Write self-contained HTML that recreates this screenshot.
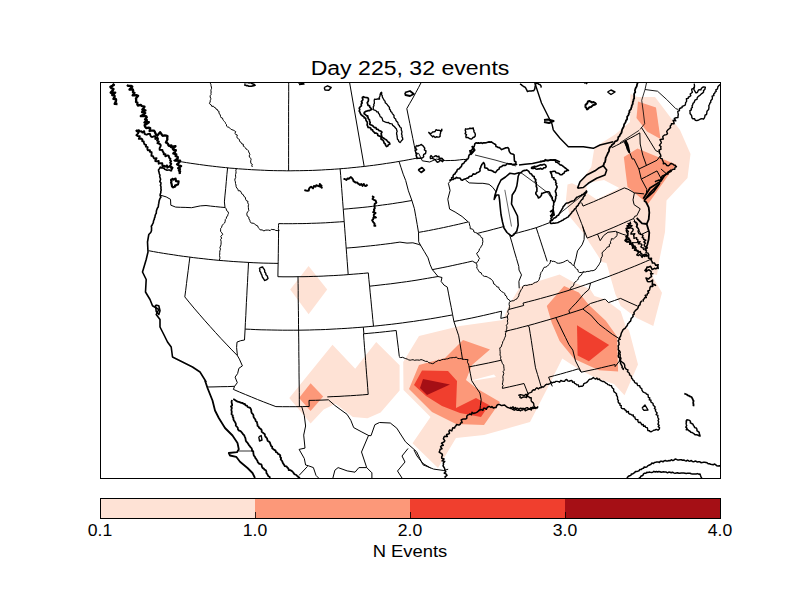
<!DOCTYPE html>
<html><head><meta charset="utf-8"><style>
html,body{margin:0;padding:0;background:#fff;width:800px;height:600px;overflow:hidden}
body{position:relative;font-family:"Liberation Sans",sans-serif;color:#000}
.title{position:absolute;left:310px;width:200px;top:56.5px;text-align:center;font-size:19.6px;line-height:22px;white-space:nowrap;transform:scaleX(1.177);transform-origin:center}
svg{position:absolute;left:0;top:0}
.lbl{position:absolute;font-size:16.3px;line-height:18px;top:521px;width:60px;margin-left:-30px;text-align:center;transform:scaleX(1.08)}
.xl{position:absolute;left:360px;width:100px;top:543px;text-align:center;font-size:16px;line-height:18px;transform:scaleX(1.15)}
</style></head><body>
<div class="title">Day 225, 32 events</div>
<svg width="800" height="600" viewBox="0 0 800 600">
<defs><clipPath id="c"><rect x="100.5" y="82.5" width="620" height="396"/></clipPath></defs>
<g clip-path="url(#c)">
<path d="M308.6,266.1 327.2,289.4 308.6,314.2 290.2,289.4 Z" fill="#fee2d5"/>
<path d="M289.3,397.9 332.5,344.8 355.2,368.7 376.2,341.9 399.6,365.2 399.6,390.6 380.6,412.5 367.5,418.3 352.9,416.9 335.4,403.7 323.7,409.6 310.6,423.6 289.3,397.9 Z" fill="#fee2d5"/>
<path d="M310.6,383.3 323.2,396.5 310.6,411.0 299.0,397.9 Z" fill="#fc9879"/>
<path d="M403.2,362.0 419.0,336.0 460.0,326.0 503.0,320.0 509.0,305.0 520.0,287.0 559.6,274.6 574.0,282.5 590.0,289.0 594.5,296.0 604.7,299.3 620.7,311.3 626.0,327.3 629.0,330.0 638.0,364.5 624.5,395.3 614.0,384.0 596.0,378.0 579.5,369.8 562.3,358.5 546.5,390.0 530.0,422.0 484.0,435.0 456.0,438.0 438.0,468.0 412.5,443.2 430.5,417.0 403.5,390.0 Z" fill="#fee2d5"/>
<path d="M473.0,380.0 494.0,374.4 496.0,377.0 474.4,380.4 Z" fill="#ffffff"/>
<path d="M409.0,389.0 419.0,365.0 445.0,358.0 463.0,340.0 490.0,349.6 472.0,365.0 466.0,380.0 476.0,388.0 500.0,402.0 484.0,425.0 456.0,424.0 432.0,412.0 409.0,389.0 Z" fill="#fc9879"/>
<path d="M414.0,385.0 422.0,370.4 448.0,371.0 457.0,381.0 456.0,408.0 476.0,398.0 489.0,405.0 481.0,417.0 460.0,413.0 442.0,406.0 426.0,396.0 414.0,385.0 Z" fill="#f03f2e"/>
<path d="M423.0,379.0 450.0,384.4 427.0,395.0 420.0,388.0 Z" fill="#a50f15"/>
<path d="M546.8,306.1 564.1,285.9 578.8,292.6 588.9,305.0 605.8,320.8 617.0,336.5 618.1,371.4 599.0,370.3 574.3,359.0 559.6,341.0 551.8,323.0 546.8,306.1 Z" fill="#fc9879"/>
<path d="M577.0,325.3 609.1,345.0 588.9,361.3 577.6,355.6 Z" fill="#f03f2e"/>
<path d="M602.7,250.0 607.3,266.0 615.3,294.0 620.7,306.0 636.7,318.0 653.3,326.0 662.0,292.7 652.7,276.7 655.3,250.0 Z" fill="#fee2d5"/>
<path d="M630.5,94.0 637.5,97.0 655.0,97.0 680.0,130.0 690.5,154.0 687.5,178.0 666.5,200.5 665.0,232.0 659.0,262.0 657.0,275.0 602.0,262.0 582.5,232.0 570.0,217.0 566.0,199.5 567.5,184.5 572.0,183.3 578.0,186.0 591.3,166.7 594.0,150.0 596.0,146.5 615.0,134.5 630.0,122.0 Z" fill="#fee2d5"/>
<path d="M586.0,183.3 604.0,180.0 619.3,188.0 596.7,199.6 587.3,193.3 Z" fill="#ffffff"/>
<path d="M638.0,101.5 656.0,107.5 660.5,139.0 647.0,131.5 636.5,118.0 Z" fill="#fc9879"/>
<path d="M623.8,157.0 637.5,148.5 676.0,164.5 648.0,204.0 627.5,187.0 Z" fill="#fc9879"/>
<g fill="none" stroke="#000" stroke-width="1" stroke-linejoin="round">
<path d="M160.9,195.3 166.2,196.9 170.5,199.3 170.8,205.2 175.7,207.1 180.4,207.3 185.1,207.4 191.6,207.7 200.3,205.9 206.0,205.5 210.7,206.1 215.5,206.6 220.2,207.1 225.0,207.5"/>
<path d="M225.0,207.5 224.4,201.9 225.0,195.1 225.7,188.3 226.3,181.4 226.9,174.6 227.6,167.8"/>
<path d="M148.6,250.7 153.5,251.6 158.5,252.5 163.4,253.3 168.4,254.1 173.4,254.8 178.3,255.6 183.3,256.3 188.3,256.9 193.3,257.6 198.3,258.2 203.2,258.7 208.2,259.3 213.2,259.8 218.2,260.3 223.2,260.7 228.2,261.1 233.2,261.5 238.1,261.8 243.1,262.1 248.1,262.4 253.1,262.7 258.1,262.9 263.1,263.1 268.1,263.2 273.1,263.3 278.1,263.4"/>
<path d="M278.6,230.5 278.5,238.2 278.4,245.9 278.3,253.6 278.2,261.3 278.0,269.0 277.9,276.7 283.0,276.8 288.0,276.8 293.0,276.8 298.0,276.7"/>
<path d="M278.7,223.6 283.4,223.7 288.1,223.7 292.7,223.7 297.4,223.6 302.1,223.6 306.8,223.5 311.5,223.3 316.2,223.2 320.8,223.0 325.5,222.8 330.2,222.5 334.9,222.2 339.6,221.9 344.2,221.6"/>
<path d="M340.1,168.8 340.7,175.4 341.2,182.0 341.7,188.6 342.2,195.2 342.7,201.8 343.2,208.4 343.7,215.0 344.2,221.6 344.7,228.2 345.2,234.8 345.7,241.4 346.2,248.1 346.7,254.7 347.2,261.3 347.7,268.0 348.2,274.6"/>
<path d="M298.0,276.7 303.0,276.7 308.1,276.6 313.1,276.4 318.1,276.3 323.1,276.1 328.1,275.8 333.2,275.6 338.2,275.3 343.2,275.0 348.2,274.6 353.2,274.2 358.2,273.8 363.3,273.4 368.3,272.9 368.9,279.5 369.6,286.2 370.2,292.8 370.9,299.5 371.5,306.1 372.2,312.8 372.8,319.5 373.5,326.2"/>
<path d="M298.0,276.7 298.1,283.5 298.2,290.3 298.2,297.1 298.3,303.9 298.4,310.7 298.5,317.5 298.5,324.3 298.6,331.1 298.7,337.9 298.8,344.8 298.8,351.6 298.9,358.5 299.0,365.3 299.0,372.2 299.1,379.1 299.2,386.0 299.3,392.8 299.3,399.8 299.4,406.7"/>
<path d="M245.1,329.1 250.4,329.3 255.8,329.6 261.1,329.8 266.5,329.9 271.8,330.0 277.2,330.1 282.5,330.2 287.9,330.2 293.2,330.2 298.6,330.2 304.0,330.1 309.4,330.0 314.8,329.8 320.2,329.7 325.6,329.5 331.0,329.2 336.4,328.9 341.8,328.6 347.2,328.3 352.5,327.9 357.9,327.5 363.3,327.1 368.9,326.6 374.5,326.1 380.1,325.5 385.7,324.9 391.3,324.3 396.9,323.6 402.5,322.9 408.0,322.1 413.6,321.4 419.2,320.5 424.8,319.7 430.4,318.8 435.9,317.9 441.5,316.9 447.1,315.9 452.6,314.9"/>
<path d="M248.5,262.4 248.2,269.1 247.8,275.7 247.5,282.4 247.1,289.0 246.8,295.7 246.4,302.4 246.1,309.0 245.8,315.7 245.4,322.4 245.1,329.1 244.5,340.0 240.7,340.7 237.0,342.1 236.6,347.5 237.4,355.6"/>
<path d="M189.9,257.1 189.0,263.8 188.2,270.4 187.3,277.0 186.5,283.6 185.7,290.3 184.8,296.9 189.7,302.9 194.7,308.9 199.8,314.8 205.0,320.8 210.2,326.6 215.5,332.5 220.8,338.3 226.3,344.1 231.8,349.9 237.4,355.6"/>
<path d="M237.4,355.6 239.4,359.1 242.4,365.9 238.9,368.3 237.6,373.6 235.1,377.1 237.3,382.7 234.6,386.3"/>
<path d="M327.3,396.9 333.1,396.6 339.0,396.4 344.8,396.0 350.7,395.7 356.5,395.3 362.4,394.9 368.2,394.4 367.7,387.7 367.2,380.9 366.6,374.2 366.1,367.4 365.6,360.7 365.1,353.9 364.5,347.2 364.0,340.5 363.5,333.8 368.9,333.3 374.4,332.8 379.8,332.3 385.3,331.7 390.7,331.1 396.2,330.5 397.2,339.1 398.3,347.8 399.3,356.5"/>
<path d="M363.9,333.8 363.3,327.1"/>
<path d="M462.5,359.5 461.3,351.6 460.0,343.7 458.7,335.8 456.3,328.7 453.9,321.5 452.6,314.6 451.3,307.7 449.9,300.8 448.6,293.9 447.3,287.1 443.9,285.0 441.1,281.4 442.0,277.5 438.0,276.5"/>
<path d="M469.0,366.9 475.5,365.6 482.0,364.3 488.4,363.0 494.9,361.6 501.3,360.2"/>
<path d="M469.0,366.9 470.4,373.8 471.7,380.7 475.7,386.8 479.9,393.0 481.2,399.8 480.4,405.5 479.8,411.3"/>
<path d="M369.6,286.2 374.9,285.6 380.1,285.0 385.4,284.4 390.7,283.8 396.0,283.1 401.2,282.4 406.5,281.7 411.8,280.9 417.0,280.1 422.3,279.2 427.5,278.3 432.8,277.4 438.0,276.5"/>
<path d="M346.2,248.1 351.1,247.7 356.0,247.3 360.9,246.8 365.8,246.3 370.7,245.8 375.5,245.3 380.4,244.7 385.3,244.1 390.2,243.5 395.1,242.8 399.9,242.1 407.0,243.1 412.9,242.8 419.1,244.5 420.8,245.7"/>
<path d="M420.8,245.7 424.4,251.7 428.0,257.8 430.0,264.3 432.2,269.4 438.0,276.5"/>
<path d="M432.0,269.7 437.1,268.7 442.1,267.7 447.2,266.7 452.2,265.6 457.2,264.5 462.3,263.4 467.3,262.3 472.3,261.1 476.1,263.2"/>
<path d="M418.5,232.4 423.5,231.5 428.5,230.6 433.5,229.6 438.5,228.6 443.4,227.6 448.4,226.5 453.4,225.4 458.3,224.3 463.3,223.1 468.2,221.9"/>
<path d="M420.8,245.7 418.7,241.8 418.5,232.4 417.2,224.5 415.8,216.6 414.4,208.7 411.9,200.5"/>
<path d="M343.3,209.2 348.2,208.8 353.1,208.3 358.0,207.9 362.9,207.4 367.8,206.9 372.7,206.3 377.6,205.7 382.5,205.0 387.4,204.4 392.3,203.7 397.2,202.9 402.1,202.2 407.0,201.3 411.9,200.5"/>
<path d="M411.9,200.5 408.4,190.8 405.7,180.5 403.2,174.2 401.1,167.8 399.0,161.4"/>
<path d="M453.9,321.5 459.8,320.4 465.8,319.2 471.8,318.0 477.8,316.7 483.7,315.4 489.7,314.0 495.6,312.6 501.6,311.2 500.8,318.4 508.0,316.6"/>
<path d="M502.4,388.4 509.6,386.8 516.8,385.2 524.0,383.5 528.2,394.2"/>
<path d="M527.6,325.7 529.1,326.7 530.2,333.5 531.3,340.4 532.3,347.2 533.4,354.0 534.4,360.9 535.5,367.8 537.5,374.4 539.5,381.1 541.4,387.7"/>
<path d="M504.8,331.5 510.7,330.0 516.6,328.6 522.5,327.0 528.4,325.5 534.3,323.9 540.2,322.2 546.1,320.5 552.0,318.8 557.9,317.0 563.7,315.2 569.6,313.3 576.2,311.2 582.8,309.0"/>
<path d="M508.5,309.5 516.1,307.5 523.7,305.5 523.0,303.1 528.8,301.6 534.7,300.1 540.5,298.5 546.3,296.9 552.1,295.3 558.0,293.6 563.8,291.9 569.6,290.1 574.8,288.4 580.1,286.6 585.3,284.8 590.6,283.0 596.1,281.0 601.6,279.0 607.2,277.0 612.7,274.9 618.2,272.8 623.7,270.6 629.2,268.4 634.7,266.2 640.2,263.9 645.6,261.6 651.1,259.2"/>
<path d="M590.6,283.0 589.0,289.3 583.6,294.1 579.4,299.2 576.0,303.1 571.6,307.6 569.0,310.6 569.6,313.3"/>
<path d="M582.8,309.0 590.4,303.5 597.3,301.4 604.2,299.3 605.6,299.5 608.5,302.6 614.5,300.5 620.5,298.4 629.0,302.3 637.6,306.1"/>
<path d="M582.8,309.0 590.8,315.1 598.8,324.1 605.5,329.2 612.3,334.3 620.9,339.7"/>
<path d="M555.8,317.6 559.1,324.3 562.3,331.0 565.6,337.7 568.9,344.5 572.8,350.1 575.5,360.9 581.3,372.2"/>
<path d="M548.6,377.2 554.6,375.6 560.6,374.0 566.5,372.3 572.5,370.6 578.5,368.8 581.3,372.2 588.0,370.7 594.8,369.3 601.5,367.7 608.3,366.1 615.1,364.5 615.1,366.6 620.5,359.7"/>
<path d="M548.6,377.2 552.3,386.4"/>
<path d="M573.7,265.9 575.8,258.8 577.5,250.9 582.1,244.8 584.1,239.6 584.3,232.9 582.6,226.3"/>
<path d="M587.2,238.1 584.4,230.9 581.6,223.6 578.8,216.4 575.9,209.2"/>
<path d="M587.2,238.1 592.4,236.1 597.6,234.0 602.8,231.9 607.9,229.8 613.1,227.6 618.2,225.4 623.4,223.1 628.5,220.8 633.6,218.5"/>
<path d="M597.5,234.1 600.2,240.7 603.6,235.6 608.0,232.3 615.7,231.3 617.0,232.0"/>
<path d="M617.0,232.0 622.9,234.3 627.0,235.5 626.2,241.9 631.3,242.7 638.5,242.6"/>
<path d="M633.6,218.5 637.3,226.5 641.0,234.6 648.3,231.2"/>
<path d="M633.6,218.5 634.8,216.2 636.7,215.8"/>
<path d="M636.7,215.8 640.2,208.8 634.1,204.7 633.0,199.9 634.4,192.9"/>
<path d="M634.4,192.9 644.1,193.9"/>
<path d="M581.6,202.6 583.0,206.1 588.2,203.9 593.4,201.8 598.6,199.5 603.7,197.3 608.9,195.0 614.0,192.7 619.2,190.3 624.3,187.9 627.9,189.2 634.4,192.9"/>
<path d="M623.8,141.5 627.1,147.7 630.2,153.9 632.3,159.1 633.9,158.8 638.9,169.0"/>
<path d="M638.9,169.0 641.2,178.8 646.8,189.3 646.4,192.9"/>
<path d="M646.4,165.4 642.8,155.2 640.2,144.0 639.8,132.9"/>
<path d="M638.9,169.0 645.0,166.1 651.0,163.2 657.1,160.2 660.4,155.6"/>
<path d="M641.4,179.0 646.6,176.4 651.8,173.6 657.0,170.9 661.8,179.9"/>
<path d="M660.9,168.9 666.8,174.1"/>
<path d="M659.9,152.5 655.7,150.6 650.9,142.8 646.2,135.1 641.4,127.4"/>
<path d="M288.6,170.8 288.6,164.2 288.6,157.6 288.6,150.9 288.6,144.3 288.6,137.7 288.6,131.1 288.6,124.5 288.6,117.9 288.6,111.3 288.6,104.7 288.7,98.1 288.7,91.5 288.7,84.8 288.7,78.2 288.7,71.6 288.7,65.0 288.7,58.3 288.7,51.7 288.7,45.1 288.7,38.4 288.7,31.8 288.7,25.1"/>
<path d="M415.8,153.2 414.3,145.7 412.8,138.3 411.3,130.9 409.8,123.4 408.3,116.0 406.8,108.6 409.8,103.3 412.9,98.0 415.8,92.6 418.7,87.3 421.5,81.9 424.2,76.6 426.9,71.2 429.5,65.7 432.0,60.3 434.4,54.9 436.8,49.4 439.1,43.9"/>
<path d="M509.7,235.1 512.0,242.9 514.2,250.8 516.5,258.6 518.8,266.5 519.0,270.0 521.5,274.9 518.9,281.3 519.2,288.3"/>
<path d="M477.0,233.5 482.4,232.1 487.9,230.8 493.4,229.3 498.8,227.9 504.3,226.4"/>
<path d="M512.9,234.1 518.7,232.6 524.5,231.0 530.4,229.4 536.2,227.7 542.7,225.3 549.2,222.8"/>
<path d="M536.2,227.7 538.4,234.4 540.6,241.1 542.8,247.9 545.0,254.6 547.2,261.4"/>
<path d="M468.2,221.9 462.1,216.5 455.1,212.0 449.6,209.1 447.8,199.2 450.1,190.5 448.4,183.3 449.9,181.6"/>
<path d="M496.2,192.0 492.8,187.4 489.0,184.3 482.9,183.3 478.0,183.3 469.2,182.9 465.6,180.1"/>
<path d="M225.1,207.4 226.2,208.8 226.6,210.6 228.1,211.7 228.5,213.4 227.9,214.5 227.6,215.9 226.5,217.0 226.3,218.5 225.3,219.5 225.2,221.3 224.6,223.0 223.4,224.2 222.0,225.4 221.7,227.3 220.7,228.3 220.6,229.8 220.6,231.4 221.8,232.8 222.8,234.4 220.7,236.4 221.7,238.1 220.6,239.6 221.1,241.3 221.1,242.9 221.0,244.5 220.6,246.0 219.9,247.6 220.5,249.2 219.9,250.8 219.7,252.4 219.8,254.0 219.5,255.6 219.9,257.2 219.8,258.8 219.1,260.3"/>
<path d="M236.6,168.6 235.8,170.1 236.0,171.6 236.0,173.1 235.5,174.6 235.6,176.1 235.7,177.6 234.9,179.0 234.9,180.5 235.4,181.9 235.5,183.5 236.0,185.0 236.1,186.6 236.8,188.0 237.8,189.1 238.3,190.8 240.2,190.8 241.1,192.1 241.7,193.8 243.3,194.7 243.9,196.4 245.4,197.4 245.6,199.3 246.6,200.9 248.0,201.3 247.7,202.9 248.6,204.4 248.2,206.0 248.4,207.5 248.5,209.1 248.8,210.6 247.7,211.8 246.9,213.2 246.9,214.9 247.4,216.3 248.9,217.2 248.9,218.9 249.8,220.2 250.2,221.8 251.3,223.1 253.2,223.2 254.7,224.0 255.9,225.1 257.7,225.9 258.2,227.6 259.5,228.8 260.2,229.9 262.1,229.9 263.9,230.9 265.8,230.1 267.2,230.1 268.6,230.1 270.2,230.6 271.4,229.3 272.9,229.6 274.3,229.6 275.6,230.4 277.1,230.6 279.1,230.5 278.3,228.8 278.5,227.1 278.5,225.3 278.7,223.6"/>
<path d="M399.1,356.9 400.7,357.6 402.6,357.3 404.1,358.0 405.7,358.6 407.3,359.1 408.7,359.9 410.2,360.2 411.6,359.9 413.1,359.7 414.4,360.3 416.1,360.0 417.8,360.0 419.5,360.2 421.0,359.6 422.6,360.0 424.1,360.7 425.6,361.4 427.3,361.3 428.8,362.7 430.6,363.1 432.7,363.7 434.1,363.0 435.4,361.9 436.9,361.3 438.3,360.3 440.1,360.6 441.7,359.7 443.3,359.4 445.0,359.3 446.4,358.9 447.8,358.8 449.1,358.2 450.5,357.8 452.0,357.8 453.3,357.5 454.8,357.6 456.4,357.0 457.7,358.5 459.3,358.6 461.1,358.6 462.6,359.2 464.3,359.4 466.0,359.5 468.1,359.7 467.5,361.2 467.6,362.7 468.5,364.0 468.8,365.4 469.0,366.9"/>
<path d="M468.8,221.7 469.3,223.3 469.6,225.0 470.2,226.6 470.2,228.7 472.1,229.0 473.5,229.9 473.9,232.0 475.6,232.6 477.2,233.2 478.1,234.6 479.8,235.0 480.7,236.5 481.6,237.9 482.7,238.2 482.6,239.8 482.9,241.6 482.5,243.2 482.4,244.8 481.3,246.1 480.7,247.7 479.5,248.8 479.1,250.5 478.3,251.9 476.7,253.2 477.2,254.7 478.1,256.0 478.8,257.4 479.6,258.3 478.7,259.5 478.3,261.1 477.1,262.1 476.3,263.2 476.9,264.9 477.0,266.6 476.7,268.2 477.9,269.3 478.6,270.8 479.5,272.2 481.2,272.8 481.8,274.4 483.1,275.7 484.4,276.4 486.0,276.4 487.4,277.0 488.6,277.7 489.9,278.4 491.2,279.2 492.2,280.4 493.0,281.1 493.8,284.0 495.2,284.6 496.1,285.8 496.9,286.9 498.7,287.2 499.1,288.8 499.9,290.0 501.1,290.9 502.1,291.9 503.4,292.6 504.8,293.4 505.0,295.2 506.5,296.1 506.9,297.7 507.7,299.1 509.3,299.9 510.2,301.3 509.2,302.8 509.1,304.5 509.6,306.3 509.3,307.9 509.0,309.5 507.8,310.9 507.9,312.3 508.7,313.8 507.6,315.2 507.3,316.5 507.6,318.1 507.8,319.6 507.3,321.0 507.7,322.5 507.6,323.9 506.3,325.3 506.8,326.7 506.9,328.1 506.4,329.6 507.1,331.0 505.9,332.3 505.4,333.9 505.6,335.8 504.9,337.3 504.3,338.8 503.7,340.4 502.7,341.8 502.5,343.5 501.7,344.9 501.5,346.6 499.8,347.8 499.9,349.5 500.1,351.3 500.2,353.2 500.0,355.1 500.9,356.8 500.5,358.7 501.4,360.4 501.9,362.1 502.5,363.7 503.7,365.1 503.8,366.9 504.0,368.6 504.2,370.2 503.0,371.7 503.8,373.4 503.3,375.0 502.8,376.6 503.0,378.2 503.2,379.8 502.9,381.2 502.7,382.7 502.3,384.1 503.2,385.6 502.4,387.0 502.4,388.4"/>
<path d="M510.1,301.7 511.8,300.9 513.8,300.7 515.3,299.6 517.0,298.8 517.9,297.3 518.8,295.8 519.0,294.0 519.8,292.5 520.5,291.0 521.2,289.7 522.2,288.5 522.7,287.0 523.5,285.7 525.2,285.3 527.1,285.4 528.8,284.8 530.6,284.6 532.4,284.3 533.8,283.1 535.4,282.4 537.1,281.9 538.4,280.8 539.2,279.4 539.5,278.0 540.2,276.6 540.1,275.1 540.7,273.8 541.0,272.4 542.2,271.2 542.8,269.9 543.2,268.9 544.1,267.3 545.9,267.1 547.3,266.2 548.2,265.1 549.6,263.8 550.3,262.2 550.5,260.0 551.9,261.4 553.7,261.3 555.4,261.9 556.9,263.0 558.6,263.3 560.2,263.1 562.1,262.6 563.8,262.0 565.5,261.0 567.5,260.1 568.5,261.1 569.3,262.4 570.9,262.7 571.5,264.1 572.7,264.9 573.7,265.9"/>
<path d="M574.2,265.5 574.8,266.8 575.5,268.1 576.6,269.0 577.9,269.7 578.1,271.5 579.5,272.5 581.3,272.5 583.5,272.0 582.1,273.6 581.1,275.4 579.1,276.6 578.4,278.6 577.6,280.0 576.4,281.1 574.9,282.1 574.1,283.4 573.7,285.1 572.8,286.5 571.1,287.2 570.5,288.8 569.6,290.1"/>
<path d="M616.7,231.9 617.2,233.8 616.9,235.6 615.8,237.0 614.6,237.9 613.5,238.9 611.4,238.7 611.2,240.3 610.4,241.6 610.8,243.4 609.2,244.5 609.5,246.5 607.2,247.1 606.1,248.8 604.7,250.3 603.0,251.5 602.0,253.0 602.4,254.9 602.1,256.7 601.0,258.2 600.9,260.0 600.5,261.9 599.6,263.3 598.9,264.8 597.9,266.1 596.9,267.4 596.1,268.9 595.0,269.8 593.1,270.7 591.1,270.7 589.1,271.4 587.1,271.4 585.2,272.1 583.1,271.7"/>
</g><g fill="none" stroke="#000" stroke-width="1" stroke-linejoin="round">
<path d="M173.5,160.4 177.8,161.2 182.1,161.9 186.4,162.6 190.8,163.3 195.1,163.9 199.4,164.5 203.8,165.1 208.1,165.7 212.5,166.2 216.8,166.7 221.1,167.2 225.5,167.6 229.8,168.1 234.2,168.4 238.5,168.8 242.9,169.1 247.3,169.4 251.6,169.7 256.0,169.9 260.3,170.1 264.7,170.3 269.0,170.5 273.4,170.6 277.8,170.7 282.1,170.7 286.5,170.8 290.9,170.8 295.2,170.7 299.6,170.7 303.9,170.6 308.3,170.5 312.7,170.4 317.0,170.2 321.4,170.0 325.7,169.7 330.1,169.5 334.4,169.2 338.8,168.9 343.2,168.5 347.5,168.2 351.9,167.7 356.2,167.3 360.6,166.8 364.9,166.4 369.2,165.8 373.6,165.3 377.9,164.7 382.2,164.1 386.6,163.4 390.9,162.8 395.2,162.1 399.6,161.3 403.9,160.6 408.2,159.8 412.5,159.0 416.8,158.1 415.8,153.2 418.7,153.4 422.3,160.8 429.7,162.0 436.3,159.1 441.0,159.9 445.8,160.6 450.3,160.5 454.9,160.4 459.4,159.9 463.8,159.4 467.7,159.9"/>
<path d="M612.1,147.6 616.7,145.3 621.4,142.9 626.0,140.4 630.6,138.0 635.2,135.5 639.8,132.9"/>
<path d="M207.1,387.0 214.0,386.9 220.9,386.7 227.7,386.6 234.6,386.3 233.4,389.4 239.4,392.0 245.4,394.5 251.5,397.0 257.5,399.5 263.6,401.9 269.8,404.3 275.9,406.6 282.6,406.7 289.2,406.7 295.9,406.7 302.5,406.6 309.2,406.5 309.0,400.4 315.5,400.3 322.0,400.1 328.4,399.8 334.8,405.4 340.9,409.9 347.0,414.3 350.8,420.3 353.7,427.6 361.1,431.6 368.6,435.5 371.0,435.7 374.9,424.7 379.5,422.5 390.3,423.0 396.8,428.2 401.1,435.0 405.5,441.8 416.5,451.6 419.7,458.2 423.0,464.8 433.6,469.1 443.9,470.5 448.2,469.2"/>
</g><g fill="none" stroke="#000" stroke-width="1.4" stroke-linejoin="round">
</g>
<path d="M112.5,83.8 113.9,85.0 110.4,86.9 111.5,88.2 113.5,89.0 112.6,90.7 110.7,92.7 115.2,92.6 112.2,95.0 114.5,95.6 114.6,97.0 113.4,98.8 116.0,99.3 116.0,100.6 115.6,102.1 114.7,103.9 117.5,104.0" fill="none" stroke="#000" stroke-width="2.4" stroke-linejoin="round"/>
<path d="M324.2,87.5 327.5,85.8 331.2,87.5 328.8,90.2 325.0,90.0 324.2,87.5" fill="none" stroke="#000" stroke-width="1.4" stroke-linejoin="round"/>
<path d="M405.0,92.5 410.0,91.0 413.8,94.0 410.0,96.0 405.5,95.0 405.0,92.5" fill="none" stroke="#000" stroke-width="1.8" stroke-linejoin="round"/>
<path d="M416.2,145.4 417.7,146.1 418.9,145.5 420.1,145.1 421.4,144.4 422.2,145.4 423.4,146.1 424.0,147.2 424.8,148.2 424.4,150.0 426.0,150.9 425.8,152.2 425.6,153.5 423.8,154.3 423.4,155.6 423.7,156.7 422.6,157.7 421.4,158.0 420.1,158.2 418.8,158.1 416.9,158.5 416.9,157.0 416.1,155.9 416.9,154.2 416.4,153.3 415.7,152.0 415.2,150.7 416.8,149.6 415.6,148.2 415.8,147.0 416.2,145.8" fill="none" stroke="#000" stroke-width="1.4" stroke-linejoin="round"/>
<path d="M464.9,128.7 466.2,129.1 467.5,129.0 468.8,128.9 469.9,128.2 471.3,128.5 473.3,128.0 473.3,129.4 474.0,130.5 473.9,131.9 474.9,133.0 475.3,134.3 475.2,136.0 474.4,137.0 473.0,137.5 472.2,138.5 471.4,139.1 470.1,138.8 468.9,138.2 467.7,137.4 466.1,137.5 465.8,136.2 466.6,134.7 465.1,133.6 465.8,132.1 465.4,130.8 465.0,129.5" fill="none" stroke="#000" stroke-width="1.4" stroke-linejoin="round"/>
<path d="M428.3,132.2 430.3,133.5 431.6,133.1 432.6,132.0 434.0,131.8 435.1,131.5 436.1,129.7 437.5,130.4 438.8,130.1 440.1,130.7 441.4,130.4 441.8,129.2 441.8,130.7 440.6,131.6 440.6,133.1 440.1,134.3 440.1,136.4 438.9,137.1 437.6,137.0 436.3,136.7 435.2,137.5 433.6,136.0 432.6,136.9 431.8,135.8 430.8,134.9 430.0,133.9 428.8,133.2" fill="none" stroke="#000" stroke-width="1.4" stroke-linejoin="round"/>
<path d="M430.0,157.0 431.0,155.6 432.6,157.2 433.9,156.8 435.0,156.0 436.2,155.8 437.1,156.8 439.0,156.3 439.1,158.4 440.9,158.1 442.2,158.5 443.0,159.6 443.6,160.2 442.6,161.7 441.1,160.7 439.8,160.4 438.8,161.8 437.3,162.2 436.4,161.3 435.6,160.2 434.6,159.3 433.4,158.9 432.3,158.1 430.5,158.6 430.0,157.0" fill="none" stroke="#000" stroke-width="1.4" stroke-linejoin="round"/>
<path d="M418.2,170.0 422.0,167.5 424.5,170.0 421.2,172.5 418.2,170.0" fill="none" stroke="#000" stroke-width="1.6" stroke-linejoin="round"/>
<path d="M343.5,179.0 344.8,179.0 346.4,180.0 347.4,178.4 348.8,178.8 350.7,177.1 351.9,178.0 352.9,179.3 353.5,181.1 354.7,181.9 355.7,182.6 357.3,182.4 358.0,183.6 359.1,184.2 360.0,184.9 361.2,183.9 362.6,185.9 363.7,183.9 365.1,186.0 366.3,185.8 367.5,184.5" fill="none" stroke="#000" stroke-width="1.9" stroke-linejoin="round"/>
<path d="M304.3,190.1 306.0,190.5 307.5,190.8 308.8,190.5 309.1,188.6 309.9,187.6 311.1,186.7 313.0,188.4 313.9,186.0 315.6,186.7 316.3,185.2 317.8,185.8 319.4,186.5 319.8,183.9 320.4,184.8 321.6,185.8 321.1,187.3 322.5,188.2" fill="none" stroke="#000" stroke-width="1.9" stroke-linejoin="round"/>
<path d="M372.0,196.2 373.7,197.0 372.5,199.0 374.0,199.9 375.7,200.7 376.4,202.8 374.7,203.9 374.5,205.3 374.6,206.8 374.8,208.3 373.9,209.4 374.3,210.6 373.1,212.2 375.6,213.0 373.8,214.6 373.8,215.9 376.0,217.5 373.3,217.7 373.2,219.2 372.1,220.2 372.9,221.6 373.7,222.7 374.6,223.7 374.3,225.8 376.2,225.8" fill="none" stroke="#000" stroke-width="1.9" stroke-linejoin="round"/>
<path d="M151.2,232.0 148.8,234.5 147.5,242.0 148.0,252.0 146.2,259.5 142.5,272.0 146.2,279.5 145.5,292.0 150.0,299.5 152.5,305.8 158.8,309.5 156.2,314.5 160.0,319.5 160.0,327.0 163.8,334.5 167.5,342.0 171.2,347.0 172.5,357.0 182.5,362.0 192.5,367.0 200.0,372.0 206.2,382.0" fill="none" stroke="#000" stroke-width="1.6" stroke-linejoin="round"/>
<path d="M155.5,305.0 158.8,305.8 160.0,310.8 158.8,314.5 156.2,311.5 155.5,305.0" fill="none" stroke="#000" stroke-width="1.6" stroke-linejoin="round"/>
<path d="M259.3,268.3 260.8,267.5 262.6,267.0 263.3,268.1 264.2,269.3 264.7,270.6 264.7,272.1 265.8,273.2 265.9,274.7 267.1,275.7 267.6,277.1 268.0,278.5 266.9,279.5 265.6,280.1 264.6,280.5 264.0,279.4 263.3,278.3 262.5,277.3 262.1,276.1 261.8,274.8 261.0,273.6 260.7,272.2 259.7,271.1 259.9,269.5 259.2,268.2" fill="none" stroke="#000" stroke-width="1.4" stroke-linejoin="round"/>
<path d="M205.0,380.5 207.5,388.0 212.5,400.5 215.0,410.5 218.8,418.0 225.0,428.0 232.5,435.5 237.5,443.0 238.8,449.2 237.0,452.2 228.8,453.0 230.0,455.5 236.2,456.8 240.0,461.8 247.5,468.0 252.5,473.0 255.0,478.0" fill="none" stroke="#000" stroke-width="1.8" stroke-linejoin="round"/>
<path d="M232.1,400.0 231.6,401.3 231.6,402.6 232.0,404.0 232.2,405.3 231.0,406.5 231.9,407.9 231.4,409.2 231.4,410.5 231.8,411.7 231.6,413.1 231.6,414.4 232.8,415.4 232.6,416.8 233.4,417.9 233.4,419.3 233.9,420.4 234.7,421.6 235.4,422.8 235.9,424.1 235.8,425.7 236.9,426.7 237.8,427.8 237.9,429.2 238.6,430.3 239.9,430.8 241.0,431.5 241.7,432.5 242.6,433.3 243.1,434.4 244.2,435.3 244.7,436.6 245.3,437.9 245.6,439.3 245.8,440.7 246.6,441.9 247.6,442.9 248.3,444.0 248.9,445.2 249.8,446.1 250.5,447.2 251.5,448.1 252.0,449.3 252.0,450.7 253.3,451.6 253.3,453.0 253.6,454.3 253.8,455.6 254.9,456.6 255.2,457.8 256.0,458.7 256.7,459.8 257.4,460.8 257.7,462.1 258.6,463.0 259.3,463.9 260.9,464.2 261.7,465.1 261.9,466.7 262.5,467.9 263.8,468.6 264.5,469.7 265.9,470.3 266.4,471.7 266.4,473.1 267.2,474.0 267.8,475.1 268.3,476.2 269.6,476.8 270.0,478.0" fill="none" stroke="#000" stroke-width="1.8" stroke-linejoin="round"/>
<path d="M233.2,399.1 234.3,399.5 235.4,400.4 236.5,401.0 237.6,401.7 238.8,401.9 240.1,402.3 241.2,402.9 242.5,403.0 243.5,403.8 244.9,404.0 245.5,405.4 247.0,405.6 247.6,407.0 248.8,407.4 250.2,407.9 250.9,409.1 251.3,410.4 251.3,411.8 251.8,413.1 252.9,414.1 253.5,415.3 253.5,416.6 254.0,417.8 254.8,418.8 255.5,419.8 255.7,421.1 256.9,421.9 257.1,423.2 257.5,424.4 257.5,425.8 258.6,426.6 259.0,427.8 260.1,428.5 261.1,429.3 261.7,430.3 261.7,431.8 262.7,432.6 263.8,433.4 264.8,434.2 265.0,435.5 265.4,436.6 266.3,437.5 267.1,438.5 267.3,439.8 267.7,441.0 269.0,441.6 269.9,442.5 270.2,443.7 270.7,444.8 271.1,446.0 272.2,446.8 272.2,448.3 273.2,449.1 274.4,449.9 275.6,450.6 275.9,452.1 277.3,452.5 277.9,453.9 279.3,454.3 280.3,455.4 280.1,456.8 281.1,457.9 280.7,459.4 281.7,460.5 282.4,461.6 282.7,462.8 283.5,463.9 284.2,465.0 284.9,466.2 286.6,466.4 287.3,467.6 288.4,468.4 288.7,470.0 290.2,470.1 291.4,470.8 292.4,471.5 293.3,472.5 294.0,473.8 295.1,474.5 296.3,475.0 297.1,475.9 298.4,477.1 300.0,478.0" fill="none" stroke="#000" stroke-width="1.8" stroke-linejoin="round"/>
<path d="M258.8,436.8 261.2,435.5 262.0,440.0 259.5,441.0 258.8,436.8" fill="none" stroke="#000" stroke-width="1.4" stroke-linejoin="round"/>
<path d="M238.8,451.0 253.8,451.0" fill="none" stroke="#000" stroke-width="0.8" stroke-linejoin="round"/>
<path d="M445.5,478.0 445.0,476.8 447.0,475.4 446.3,474.2 444.2,473.1 445.8,471.7 444.9,470.5 444.8,469.3 444.5,468.1 443.8,467.0 443.0,465.8 443.5,464.4 443.3,463.1 444.7,461.4 442.1,460.8 444.1,458.9 441.7,458.3 441.7,456.9 442.5,455.2 442.1,454.0 440.7,453.1 439.2,452.1 439.9,450.5 440.1,449.2 442.0,448.7 440.6,446.8 441.5,445.8 443.3,445.2 441.5,443.2 442.9,442.5 444.4,441.7 444.8,440.6 443.4,438.7 443.9,437.3 444.7,436.2 447.4,436.5 446.6,434.4 448.4,434.1 449.5,433.3 448.9,431.3 449.6,430.0 451.8,430.9 452.3,429.3 452.8,427.8 454.6,428.1 455.1,426.5 456.1,425.7 456.5,424.5 458.9,425.1 460.2,424.4 460.6,423.0 462.1,422.6 461.2,419.9 462.6,419.3 464.0,418.9 465.8,419.0 466.8,418.2 466.8,416.2 467.6,415.1 468.9,414.6 470.0,414.0 471.6,414.7 472.0,412.3 473.7,413.5 474.8,412.9 476.0,412.7 477.1,412.1 478.1,411.3 479.0,410.2 480.2,409.8 481.4,409.6 482.9,410.4 483.5,408.2 484.8,408.2 486.4,409.3 487.1,407.7 488.2,406.8 489.3,406.4 490.9,407.5 491.9,406.5 493.5,408.1 494.7,407.6 496.0,407.6 496.9,405.4 498.0,404.6 499.3,404.4 500.7,405.2 501.8,405.6 503.2,405.3 504.6,405.1 505.7,406.0 506.7,406.9 507.9,407.5 509.1,407.9 510.2,408.4 511.5,408.1 513.0,406.8 513.8,408.9 515.3,407.6 516.4,408.6 517.7,408.2 518.7,409.5 520.1,408.2 521.4,408.5 522.8,408.6 524.1,408.5 525.2,410.7 526.6,410.1 527.8,409.6 529.2,409.1 531.3,409.9 532.0,408.0 533.0,407.0 534.6,408.2 535.7,407.5 537.2,408.0 538.0,406.4" fill="none" stroke="#000" stroke-width="1.5" stroke-linejoin="round"/>
<path d="M510.3,406.9 511.2,408.0 512.1,409.1 513.2,409.6 514.3,410.2 516.0,409.3 517.0,410.2 517.8,410.4 518.9,410.0 520.6,410.9 521.5,409.9 522.8,410.0 523.6,408.6 525.1,409.0 526.0,407.9 527.3,407.6 528.5,408.6 529.7,409.0 531.0,407.5 532.2,408.4 533.5,408.5 534.8,407.8 535.8,408.5 534.8,407.6 534.3,406.5 533.8,405.4 533.8,404.0 533.3,402.9 532.0,401.9 531.2,400.8 531.2,399.4 531.2,397.7 529.7,397.7 528.8,396.8 527.7,396.3 527.3,394.7 526.0,394.3 524.7,395.3 523.3,395.4 521.8,394.9 520.4,394.8 518.8,395.1 520.2,396.3 519.9,397.4 521.3,398.1 522.4,397.4 523.5,397.0 524.7,396.9 526.6,397.5 526.5,395.8 527.7,395.1 528.2,393.8 529.1,392.9 530.3,392.6 531.6,392.2 532.3,390.6 533.4,389.7 535.0,390.0 535.8,388.5 536.9,387.8 538.6,388.9 539.6,387.7 541.0,387.9 541.9,386.8 543.5,387.1 544.5,385.9 545.5,384.9 546.5,384.3 548.1,384.4 549.1,383.9 550.1,383.7 551.1,382.1 552.4,382.8 553.6,382.2 554.8,382.2 555.9,381.4 557.1,381.4 558.4,381.6 559.7,382.2 560.7,380.5 562.0,381.0 563.3,381.3 564.5,381.4 565.5,379.9 566.7,379.5 567.7,380.8 568.9,381.2 570.4,380.8 571.9,380.4 572.6,382.3 574.1,381.8 574.5,383.4 575.9,383.8 576.6,384.9 578.4,384.9 578.7,386.6 579.7,386.6 580.9,386.2 582.3,386.2 583.3,385.5 583.7,383.9 584.7,383.2 585.9,382.9 587.0,382.2 587.9,381.2 588.6,380.0 589.7,379.3 591.3,379.1 591.9,378.7 593.3,377.4 594.4,378.5 595.5,379.1 596.9,378.0 597.7,379.5 599.5,379.0 600.2,380.3 601.4,380.8 602.5,381.5 603.9,381.5 604.9,382.3 605.9,383.1 607.1,383.6 607.8,384.6 609.1,384.9 610.1,385.6 611.5,385.6 611.8,387.1 612.7,388.2 613.7,389.1 613.6,390.7 614.2,391.9 615.4,392.8 616.6,393.9 616.4,395.3 617.4,396.5 617.6,397.8 617.5,399.3 618.4,400.5 618.1,401.9 618.7,403.0 620.0,403.5 619.8,405.1 621.3,405.6 621.0,407.2 621.7,408.4 623.0,408.7 624.4,408.7 625.0,410.0 626.1,410.5 626.5,412.0 628.4,411.5 628.6,413.2 629.5,414.1 630.8,414.3 631.7,415.1 633.3,414.9 633.3,416.6 634.9,417.0 635.1,418.5 636.0,419.5 637.9,419.6 637.9,421.3 638.6,422.5 640.4,422.3 641.1,423.4 641.7,424.7 643.3,424.5 643.6,426.3 645.2,426.0 645.6,427.4 647.3,427.6 647.6,429.0 647.8,430.5 649.6,430.7 649.9,431.6 651.3,431.7 652.6,431.0 653.7,430.2 655.0,430.0 656.3,429.4 658.0,430.2 659.3,429.0 659.6,427.7 658.2,426.6 659.2,425.3 657.9,424.2 658.5,422.9 658.6,421.6 658.0,420.5 658.8,419.2 658.1,418.0 657.7,416.8 657.9,415.4 656.1,414.6 657.2,412.9 656.2,411.9 655.4,410.9 655.7,409.4 654.4,408.5 655.2,406.9 654.1,405.9 653.1,405.0 653.1,403.5 651.9,402.7 650.8,401.9 651.0,400.2 649.3,399.8 649.8,397.9 648.3,397.3 648.2,395.8 647.9,394.5 646.5,394.1 645.8,393.1 644.5,392.6 643.3,392.1 642.6,391.2 641.9,390.1 641.8,388.7 640.7,388.0 640.0,387.0 639.7,385.6 637.9,385.6 637.2,384.6 637.0,383.2 635.4,383.1 634.5,382.2 634.2,380.9 633.1,380.3 632.6,379.1 631.6,378.3 631.5,376.8 630.8,375.7 629.5,374.9 629.5,373.4 628.6,372.5 627.4,371.7 628.0,369.8 626.3,369.3 625.5,368.3 624.7,367.2 624.8,365.6 624.4,364.2 623.6,363.2 622.3,362.4 621.4,361.4 620.1,360.2 621.0,358.7 620.6,357.5 620.0,356.3 620.3,354.9 619.7,353.8 620.3,352.3 619.7,351.2 619.0,350.0" fill="none" stroke="#000" stroke-width="1.4" stroke-linejoin="round"/>
<path d="M642.0,408.0 645.0,405.0 648.0,410.0 644.0,410.4 642.0,408.0" fill="none" stroke="#000" stroke-width="1.4" stroke-linejoin="round"/>
<path d="M623.0,370.0 623.4,368.6 622.0,367.7 622.2,366.4 621.6,365.3 621.0,364.2 620.4,363.1 620.9,361.6 619.6,360.8 619.8,359.4 619.9,358.1 618.6,357.2 618.2,355.9 618.7,354.6 618.6,353.4 618.8,352.1 619.0,350.9 618.2,349.6 618.4,348.4 618.4,347.1 618.1,345.9 619.1,344.6 618.9,343.4 618.9,342.1 618.0,340.9 619.0,339.8 619.5,338.6 619.7,337.2 620.6,336.2 620.9,334.9 621.2,333.6 621.7,332.3 622.4,331.2 622.9,329.9 623.9,329.0 625.1,328.3 625.8,327.2 626.7,326.3 627.4,325.2 627.7,323.8 628.8,323.0 629.5,321.9 630.6,321.1 630.9,319.8 631.2,318.4 632.2,317.5 633.1,316.5 632.9,314.9 634.2,314.1 633.9,312.5 634.8,311.4 635.5,310.3 636.8,309.4 637.7,308.4 638.3,307.1 638.7,305.7 640.0,304.8 640.2,303.2 640.9,301.8 642.0,300.7" fill="none" stroke="#000" stroke-width="1.5" stroke-linejoin="round"/>
<path d="M643.4,301.6 643.1,299.9 644.0,299.0 644.6,297.8 646.3,297.4 645.2,295.3 647.2,295.0 647.4,293.6 648.6,292.9 647.8,290.9 649.3,290.6 649.8,289.2 650.0,287.5 650.7,286.3 652.8,286.5 652.2,284.0 655.5,285.4 654.7,284.6 653.3,284.4 652.3,283.6 652.6,280.1 650.5,281.6 648.9,281.7 647.6,281.6 646.0,278.0 648.7,279.0 649.5,277.9 650.6,277.2 651.6,276.4 650.6,273.6 652.9,273.7 651.3,273.7 651.1,271.4 650.0,270.7 649.0,269.7 646.0,271.7 646.7,268.2 644.9,270.4 646.1,270.4 647.0,266.9 648.2,267.2 649.4,266.7 650.6,266.3 652.1,269.4 653.3,269.1 654.5,268.3 655.8,268.9 656.9,268.1 658.0,266.6 658.2,268.4 657.2,267.5 658.2,264.7 655.7,265.3 655.1,264.1 654.4,262.9 652.4,263.1 652.1,261.5 651.2,260.5 651.5,258.3 649.7,258.5 648.5,258.0 648.6,255.1 646.6,256.1 646.1,254.3 644.6,254.5 642.3,256.0 641.9,254.0 640.8,253.3 640.3,251.5 638.4,252.4 638.0,250.5 636.5,250.5 635.3,250.0" fill="none" stroke="#000" stroke-width="1.5" stroke-linejoin="round"/>
<path d="M645.3,250.0 647.3,244.7 648.7,239.3 649.3,232.7 647.3,226.0 646.7,224.0 642.0,223.3 636.7,218.0" fill="none" stroke="#000" stroke-width="1.8" stroke-linejoin="round"/>
<path d="M646.7,224.0 648.7,219.3 649.3,212.7 648.7,207.3 646.0,202.0 644.0,200.7" fill="none" stroke="#000" stroke-width="1.8" stroke-linejoin="round"/>
<path d="M631.1,223.1 628.8,224.9 632.1,225.7 629.5,227.6 632.3,228.4 633.2,229.3 632.9,230.7 631.2,232.6 630.9,234.1 634.9,233.7 633.6,235.6 634.0,236.7 634.0,238.4 636.7,237.6 636.7,239.3 638.0,239.8 637.5,242.1 640.2,241.6 638.3,243.9 641.2,243.9 642.0,244.9 640.9,246.9 642.2,247.7 644.1,248.2 643.3,250.0" fill="none" stroke="#000" stroke-width="1.4" stroke-linejoin="round"/>
<path d="M626.8,226.0 629.0,227.2 626.1,228.4 626.5,229.6 626.2,230.8 626.8,232.0 627.9,233.3 627.7,234.5 627.7,235.7 625.7,236.9 629.0,238.1 626.2,240.4 629.5,238.9 629.9,240.3 630.7,241.3 629.8,244.0 631.8,243.8 633.1,244.4 632.3,246.7 635.2,246.2 635.2,247.8 635.8,249.0 636.7,250.0" fill="none" stroke="#000" stroke-width="1.4" stroke-linejoin="round"/>
<path d="M644.0,200.7 650.0,192.7 656.7,186.0 659.6,183.6 654.0,191.3 647.3,197.3 644.0,200.7" fill="none" stroke="#000" stroke-width="1.6" stroke-linejoin="round"/>
<path d="M643.3,198.7 650.0,188.0 655.3,184.7 660.7,181.3 664.7,175.3 671.3,170.0" fill="none" stroke="#000" stroke-width="1.8" stroke-linejoin="round"/>
<path d="M625.3,140.3 627.5,144.5 629.2,152.0 627.5,148.7 625.3,140.3" fill="none" stroke="#000" stroke-width="2.2" stroke-linejoin="round"/>
<path d="M660.8,157.0 660.8,155.7 660.4,154.3 659.5,153.0 659.5,151.7 659.0,150.2 661.1,149.2 660.7,147.9 661.0,146.6 659.4,145.3 660.3,144.1 661.4,142.9 661.0,141.6 660.0,139.6 661.6,139.3 663.4,139.1 662.7,136.8 663.5,135.7 664.5,135.0 666.3,134.6 667.5,133.7 666.7,131.4 667.5,130.3 668.6,129.3 669.5,128.4 670.6,127.6 670.2,126.0 671.2,125.1 671.4,123.8 674.1,123.7 673.9,122.4 673.0,120.3 675.8,120.8 674.3,118.3 675.7,117.8 678.0,117.5 678.0,116.0 678.3,114.6 678.0,112.9 677.8,111.3 679.4,110.7 679.5,108.6 680.7,108.0 682.1,107.6 682.1,106.4 683.6,105.8 685.2,105.2 685.5,103.9 685.6,102.6 686.5,101.6 686.6,100.3 686.4,98.7 688.2,98.4 688.3,97.1 689.8,96.5 690.8,95.8 690.2,94.0 691.2,93.2 692.4,92.2 691.9,90.7 691.7,89.2 693.5,88.5 694.4,87.3 694.5,85.5 694.2,83.7" fill="none" stroke="#000" stroke-width="1.4" stroke-linejoin="round"/>
<path d="M659.8,157.3 660.9,158.4 662.1,158.7 662.4,160.0 663.0,161.2 663.5,162.4 663.3,163.9 664.8,163.3 665.9,164.3 666.9,165.5 668.5,165.7 669.6,165.0 670.3,163.8 671.7,163.5 672.8,164.1 673.8,165.0 675.1,165.2 676.5,166.7 675.0,167.1 674.8,169.2 673.1,169.3 671.9,169.9 671.2,171.3 670.0,172.0 668.3,171.8 667.9,174.1 666.2,173.8 665.5,175.0 663.4,175.4 661.9,176.4 661.2,178.2 660.4,180.2 658.7,180.0 657.5,180.7 656.1,181.0 655.0,182.0" fill="none" stroke="#000" stroke-width="1.4" stroke-linejoin="round"/>
<path d="M720.0,84.5 719.0,85.6 717.9,86.7 717.7,88.0 717.2,89.2 715.8,89.8 716.2,91.4 715.0,92.1 714.7,93.3 713.6,94.1 713.9,95.6 712.1,96.1 712.4,97.7 712.3,99.0 711.4,99.9 710.7,101.0 710.8,102.2 709.8,103.3 709.5,104.5 708.8,105.7 709.0,107.1 708.8,108.3 708.6,109.6 707.4,110.7 706.9,111.6 706.8,113.1 706.5,114.5 705.0,115.1 704.9,116.5 704.4,117.8 703.5,119.2 701.9,118.6 700.5,119.0 699.3,119.7 698.0,120.3 696.7,120.6 695.2,120.3 694.5,118.6 692.8,118.7 691.9,117.8 691.8,116.5 691.5,115.4 690.6,114.3 690.0,113.3 690.1,112.0 689.9,110.6 691.4,109.8 691.2,108.3 692.4,107.4 692.0,105.9 692.7,104.8 693.0,103.4 694.1,102.5 694.6,101.1 695.2,99.9 697.0,99.4 697.2,97.9 698.0,96.7 699.1,95.8 700.3,95.0 701.3,93.9 702.5,93.2 703.6,92.1 703.5,90.6 704.8,89.5 705.1,88.2 705.4,87.3 703.6,86.9 702.4,87.5 701.4,88.3 700.9,89.9 699.2,89.6 698.2,90.6 697.6,92.1 696.5,92.8 695.7,92.7 695.0,91.3 694.2,90.0 693.7,88.5 694.2,87.0" fill="none" stroke="#000" stroke-width="1.4" stroke-linejoin="round"/>
<path d="M646.7,82.0 645.0,89.5 657.5,91.2 666.7,99.5 675.8,108.7 678.3,109.5" fill="none" stroke="#000" stroke-width="0.9" stroke-linejoin="round"/>
<path d="M645.0,89.5 641.7,100.3 643.3,112.0 644.7,123.7 640.0,129.5" fill="none" stroke="#000" stroke-width="0.8" stroke-linejoin="round"/>
<path d="M620.0,142.8 639.2,130.3" fill="none" stroke="#000" stroke-width="0.8" stroke-linejoin="round"/>
<path d="M577.5,188.3 580.0,181.7 586.7,175.0 595.0,170.8 598.3,168.3 603.3,165.8 606.7,170.0 605.0,175.0 596.7,178.3 588.3,183.3 583.3,187.5 577.5,188.3" fill="none" stroke="#000" stroke-width="1.6" stroke-linejoin="round"/>
<path d="M549.8,221.5 551.0,220.7 552.3,220.2 553.2,219.1 554.1,218.1 555.5,217.8 556.5,216.9 557.1,215.6 558.6,215.2 559.1,213.9 559.9,212.8 560.5,211.6 561.3,210.5 561.9,209.3 562.7,208.2 563.1,206.7 564.3,205.7 565.0,204.5 565.9,203.5 567.0,202.9 568.3,202.9 569.4,202.3 570.5,201.7 571.7,201.3 572.9,200.9 574.2,200.8 574.8,199.5 575.8,198.6 576.6,197.2 577.8,196.9 578.9,196.4 580.0,195.9 581.2,195.6 582.0,194.4 583.5,194.4 584.1,193.3 585.0,192.5 585.9,191.7 586.4,190.8 586.8,191.8 586.1,192.9 585.0,193.8 585.0,195.4 583.9,196.3 583.2,197.4 582.9,198.8 581.8,199.6 581.0,200.6 580.2,201.6 579.8,202.9 578.7,203.7 578.3,205.0 577.5,206.0 576.4,206.7 576.1,208.1 574.8,208.8 574.1,209.8 573.4,210.9 572.2,211.6 571.7,212.8 570.8,213.8 570.0,214.7 569.0,215.6 568.4,216.9 567.2,217.4 566.1,218.1 565.0,218.7 563.8,219.2 562.9,220.3 561.6,220.6 560.6,221.4 559.3,221.8 558.2,222.5 557.0,222.8 555.8,222.9 554.5,223.2 553.3,223.1 552.0,223.4 550.7,223.4 550.0,221.7" fill="none" stroke="#000" stroke-width="1.5" stroke-linejoin="round"/>
<path d="M551.7,220.0 585.8,192.5" fill="none" stroke="#000" stroke-width="0.8" stroke-linejoin="round"/>
<path d="M553.3,130.0 560.0,138.3 568.3,146.7 583.3,146.7 593.3,148.3 600.0,145.0 613.3,141.7" fill="none" stroke="#000" stroke-width="1.4" stroke-linejoin="round"/>
<path d="M539.9,161.4 541.4,161.5 542.7,161.2 544.1,161.1 545.2,159.6 546.7,160.4 548.0,160.7 549.5,160.3 550.9,159.7 552.3,160.2 553.7,159.9 555.3,160.4 555.8,162.1 557.1,162.3 558.2,163.1 559.2,164.0 560.2,164.9 561.6,165.1 562.7,166.0 563.8,166.8 564.8,167.8 566.0,168.5 567.0,169.4 568.5,170.4 567.1,170.3 566.1,171.2 564.8,171.3 564.1,173.1 562.8,173.8 561.7,174.8 560.2,174.6 559.1,173.6 557.6,173.1 556.1,172.7 555.0,171.2 553.8,171.2 552.5,171.6 551.2,172.1 550.3,171.6 550.7,172.7 551.4,173.8 551.7,175.0 552.0,176.2 552.1,177.5 553.9,177.9 553.9,179.4 555.3,179.9 555.8,181.0 555.6,182.6 556.6,183.3 555.9,184.5 556.6,185.7 557.2,187.0 556.6,188.2 556.1,189.4 555.5,190.6 555.4,191.8 556.1,193.0 556.1,194.3 556.5,195.5 555.6,196.6 555.8,198.0 555.4,199.2 555.1,200.5 554.7,201.6 553.5,202.5" fill="none" stroke="#000" stroke-width="1.6" stroke-linejoin="round"/>
<path d="M449.9,181.4 450.1,179.9 451.7,179.4 451.6,177.7 453.1,177.2 453.1,175.6 453.8,174.4 455.2,173.8 455.5,172.4 456.7,171.7 457.0,170.3 457.8,169.2 459.3,168.7 460.0,167.7 461.0,166.8 461.7,165.7 462.0,164.2 463.3,163.6 464.2,162.7 464.8,161.5 466.1,160.8 466.4,159.3 467.9,158.9 468.6,157.7 468.7,156.3 469.2,155.0 470.4,154.1 471.1,152.9 470.8,151.3 471.5,150.2 472.5,149.1 472.7,147.6 474.1,146.8 474.5,145.4 474.8,143.9 476.0,142.8 477.2,143.1 478.5,142.9 479.8,143.2 481.0,142.6 482.2,143.4 483.5,142.8 484.9,142.9 486.3,142.7 487.6,142.2 489.0,141.9 490.4,142.1 491.4,141.9 492.4,142.6 493.5,143.4 494.6,144.0 495.7,144.7 496.0,146.5 497.2,146.8 498.2,147.5 499.5,147.6 500.4,148.5 501.6,149.6 502.9,149.1 504.2,148.5 505.5,147.9 506.9,147.7 507.8,147.6 508.9,149.0 509.0,150.6 509.7,152.1 510.4,153.1 511.4,153.8 512.7,154.0 514.1,154.9 514.1,156.1 514.2,157.4 514.3,158.6 514.3,159.9 514.6,161.2 516.0,162.0 515.6,163.6 516.5,164.4 515.3,164.2 513.9,164.4 512.6,164.7 511.4,163.9 510.1,163.8 508.8,163.9 507.3,163.5 506.4,164.6 505.3,165.4 503.9,165.3 502.6,165.5 501.8,166.5 500.4,166.9 499.4,167.6 499.2,169.0 498.0,169.6 497.1,170.4 496.4,171.4 495.4,172.6 493.9,172.0 492.6,171.0 491.2,170.4 489.8,170.2 488.4,170.0 487.6,168.6 486.3,168.1 484.7,167.8 484.7,166.4 484.7,165.0 484.3,163.7 483.5,162.5 482.8,163.5 481.9,164.3 481.5,165.5 480.9,166.3 480.7,167.6 479.9,168.8 480.1,170.2 479.7,171.4 478.5,172.2 477.1,172.6 476.0,173.6 474.8,174.2 473.1,173.9 472.4,175.2 471.5,176.1 470.1,176.2 469.0,176.7 468.3,178.0 467.0,178.1 465.6,178.9 464.0,179.2 462.3,180.3 461.1,179.8 460.3,178.3 459.1,178.0 457.7,178.0 456.5,177.4 455.5,178.4 454.1,178.5 453.2,179.5 451.7,179.5 450.7,180.3 449.8,181.2" fill="none" stroke="#000" stroke-width="1.6" stroke-linejoin="round"/>
<path d="M472.0,146.0 474.5,150.0 471.0,154.0 470.0,150.0" fill="none" stroke="#000" stroke-width="2.2" stroke-linejoin="round"/>
<path d="M519.8,172.5 514.5,174.0 510.0,173.2 505.5,177.0 501.0,180.0 498.0,186.0 496.5,190.5 495.0,195.0 494.2,199.5 496.5,195.0 498.8,195.0 499.5,199.5 500.2,207.0 501.0,214.5 502.5,222.0 504.0,228.0 507.0,232.5 511.5,236.2 513.8,234.8 516.8,231.0 518.2,225.0 517.5,216.0 514.5,210.0 511.5,204.0 512.2,195.0 515.2,190.5 516.8,186.0 517.5,181.5 518.2,176.2 519.8,172.5" fill="none" stroke="#000" stroke-width="1.6" stroke-linejoin="round"/>
<path d="M504.8,189.8 511.5,226.5" fill="none" stroke="#000" stroke-width="0.6" stroke-linejoin="round"/>
<path d="M519.9,172.9 521.3,172.6 522.4,171.3 523.6,170.6 525.0,170.4 526.7,169.9 527.8,170.6 528.8,171.3 529.5,172.6 530.2,173.6 531.5,174.0 532.0,175.0 532.7,176.0 534.2,176.6 534.2,178.0 535.0,178.9 535.9,179.9 535.2,181.4 536.3,182.4 536.2,183.8 536.3,185.0 536.2,186.4 536.8,187.5 537.0,188.8 536.8,190.0 537.0,191.3 535.9,192.4 535.8,193.7 536.5,194.8 537.4,195.7 538.0,196.8 538.4,197.9 539.8,197.3 540.7,196.2 541.5,195.1 541.7,193.4 543.1,193.1 544.6,192.5 546.1,191.9 547.1,191.7 548.8,191.8 549.7,192.8 550.1,194.3 550.7,195.2 551.4,196.3 552.2,197.4 552.3,198.8 552.5,200.1 553.6,201.1 553.7,202.5 553.7,203.8 553.7,205.0 553.1,206.3 553.4,207.5 553.2,208.8 553.2,210.1 552.3,211.5 552.8,213.1 551.7,214.5 552.1,215.8 552.1,217.2 550.9,218.3 551.5,219.7 550.4,220.8 550.3,222.1 550.5,223.5" fill="none" stroke="#000" stroke-width="1.6" stroke-linejoin="round"/>
<path d="M519.0,165.0 525.0,164.2 532.5,163.5 546.0,160.5 555.0,159.8 560.0,162.0" fill="none" stroke="#000" stroke-width="1.6" stroke-linejoin="round"/>
<path d="M531.2,168.4 532.0,167.1 533.4,167.0 534.4,166.2 536.0,166.7 537.1,166.2 538.3,165.7 539.5,165.2 540.7,164.8 542.1,165.1 543.2,164.5 544.4,164.3 545.6,165.1 546.2,166.8 545.3,167.7 543.8,167.8 543.0,168.7 541.8,169.2 540.6,168.3 539.4,169.0 538.2,168.9 536.9,169.2 535.8,168.9 534.7,168.0 533.4,168.5 532.2,168.5 531.0,168.0" fill="none" stroke="#000" stroke-width="1.6" stroke-linejoin="round"/>
<path d="M550.0,212.0 553.0,210.0 554.0,215.0 550.0,216.0" fill="none" stroke="#000" stroke-width="2.0" stroke-linejoin="round"/>
<path d="M534.5,82.0 541.5,103.0 552.0,124.0 553.3,130.0" fill="none" stroke="#000" stroke-width="1.4" stroke-linejoin="round"/>
<path d="M475.0,155.0 495.0,160.0 516.0,166.0" fill="none" stroke="#000" stroke-width="0.8" stroke-linejoin="round"/>
<path d="M520.0,172.0 535.0,183.0 548.0,193.0 554.0,202.0" fill="none" stroke="#000" stroke-width="0.8" stroke-linejoin="round"/>
<path d="M408.0,448.5 402.0,456.0 405.0,462.0 397.5,471.0 402.0,478.0" fill="none" stroke="#000" stroke-width="1" stroke-linejoin="round"/>
<path d="M414.0,450.0 417.0,456.0 423.0,463.5 430.5,468.0" fill="none" stroke="#000" stroke-width="1" stroke-linejoin="round"/>
<path d="M630.2,221.7 630.4,223.1 628.0,223.6 630.3,225.7 627.0,225.8 629.7,228.1 626.4,228.5 627.0,229.9 628.4,231.5 627.2,232.7 627.7,234.1 627.6,235.4 627.6,236.7 626.8,238.0 624.9,240.5 625.8,241.4 626.9,242.0 629.8,240.6 630.3,242.0 629.7,244.4 632.7,243.0 631.8,245.4 633.8,245.8 632.4,248.2 636.1,247.6 634.4,250.2 636.5,250.5 637.7,251.4 638.8,252.4 636.7,254.9 638.3,255.6 639.7,254.5 641.0,255.6 642.1,257.4 643.7,255.1 644.8,256.5 646.3,255.1 647.6,255.4 648.8,256.7" fill="none" stroke="#000" stroke-width="1.4" stroke-linejoin="round"/>
<path d="M634.0,220.8 634.6,221.9 636.4,222.5 637.2,223.6 637.5,224.8 636.4,226.4 637.1,227.5 638.2,228.5 638.7,229.6 638.0,231.2 638.5,232.4 639.0,233.6 640.3,234.2 642.0,234.6 643.0,235.4 642.2,237.6 643.7,238.0 643.5,239.3 645.8,240.2 643.8,242.0 645.5,243.0 644.2,244.6 644.4,245.9 645.8,246.9 647.4,247.9 645.0,249.8 646.6,250.8 645.9,252.5 648.1,253.2 648.7,254.5 648.3,256.1" fill="none" stroke="#000" stroke-width="1.4" stroke-linejoin="round"/>
<path d="M301.7,406.5 304.3,415.6 305.6,426.0 303.7,435.1 305.0,448.1 299.1,449.4 304.3,458.5 305.6,465.0 308.2,465.7 313.4,467.6 316.0,475.4 318.6,478.0" fill="none" stroke="#000" stroke-width="1" stroke-linejoin="round"/>
<path d="M307.6,466.3 299.1,475.4" fill="none" stroke="#000" stroke-width="1" stroke-linejoin="round"/>
<path d="M368.7,435.1 361.5,452.0 366.7,467.6 371.9,472.8 371.9,478.0" fill="none" stroke="#000" stroke-width="1" stroke-linejoin="round"/>
<path d="M366.7,467.6 358.9,467.6 355.0,472.2 347.2,470.9 338.1,467.6 334.9,470.2 332.9,478.0" fill="none" stroke="#000" stroke-width="1" stroke-linejoin="round"/>
<path d="M627.0,478.4 627.6,477.2 628.4,476.3 629.6,475.8 630.8,475.4 631.3,474.1 632.7,474.0 633.7,473.2 634.7,472.7 635.4,471.5 636.8,471.6 638.0,471.1 639.1,470.7 639.9,469.4 641.3,469.4 642.2,468.4 643.5,468.3 644.2,466.9 645.8,467.3 646.9,466.9 647.8,465.8 648.9,465.2 650.0,464.7 651.1,464.2 651.9,463.0 653.4,463.6 654.4,462.4 655.6,462.2 656.8,461.9 658.1,461.9 659.4,462.5 660.4,461.2 661.7,461.2 663.0,461.8 664.1,460.9 665.3,460.5 666.6,461.1 667.8,460.9 669.0,460.6 670.2,460.7 671.3,459.7 672.7,460.6 673.8,460.2 675.1,459.1 676.3,459.3 677.5,459.9 678.7,460.0 680.0,459.8 681.3,459.7 682.5,460.2 683.8,459.9 685.0,460.6 686.2,461.1 687.5,460.2 688.7,460.9 690.0,461.2 691.3,460.5 692.5,461.6 693.7,461.8 695.0,461.1 696.2,461.3 697.4,462.1 698.6,461.8 699.9,461.8 701.0,462.7 702.2,462.6 703.5,462.2 704.7,462.2 705.9,462.5 707.1,462.8 708.1,463.7 709.4,463.7 710.7,464.2 711.9,464.4 713.2,464.7 714.7,464.0 715.8,464.9 716.9,465.8 718.1,466.1 719.7,465.7 720.8,466.4 722.0,467.0" fill="none" stroke="#000" stroke-width="1.5" stroke-linejoin="round"/>
<path d="M638.4,479.1 639.1,478.1 640.2,477.5 640.8,476.3 642.0,475.8 643.0,475.1 643.5,473.9 644.6,473.2 646.1,473.2 646.7,472.3 647.9,472.5 649.1,472.1 650.3,472.3 651.5,472.4 652.8,472.3 653.9,471.3 655.2,472.0 656.4,471.5 657.6,472.0 658.8,471.5 660.0,471.8 661.2,472.3 662.5,472.0 663.8,471.7 665.0,472.1 666.3,472.1 667.5,472.8 668.8,472.1 670.0,472.3 671.2,472.8 672.5,472.2 673.7,472.9 675.0,473.4 676.2,473.0 677.5,472.8 678.8,473.2 680.0,473.3 681.3,472.9 682.5,472.9 683.8,473.0 685.0,473.2 686.3,473.4 687.5,473.3 688.8,473.3 690.0,473.2 691.2,473.7 692.5,474.1 693.7,473.9 695.0,473.9 696.2,474.0 697.5,473.6 698.7,474.2 700.0,474.0 700.4,475.3 700.9,476.6 701.5,477.7 702.0,479.0" fill="none" stroke="#000" stroke-width="1.5" stroke-linejoin="round"/>
<path d="M684.3,393.6 685.5,394.0 686.7,394.5 687.7,395.3 688.9,395.7 689.9,396.4 691.5,397.0 692.3,398.4 692.9,399.7 693.6,401.0 693.2,402.3 693.3,403.7 693.6,405.0 693.3,406.3" fill="none" stroke="#000" stroke-width="1.8" stroke-linejoin="round"/>
<path d="M686.0,421.2 687.0,419.8 688.0,419.9 689.5,420.4 690.4,421.2 690.4,422.9 691.7,423.5 692.9,424.1 693.4,425.4 694.2,426.4 694.7,427.6 696.2,428.0 696.9,429.1 697.0,430.8 698.0,431.4 699.2,432.4 699.4,433.7 699.8,435.0 700.1,436.1 698.8,435.7 697.6,435.0 696.4,434.7 695.0,434.7 694.1,433.8 693.1,433.2 692.1,432.5 690.8,432.2 690.0,431.2 688.9,430.7 688.0,429.8 686.2,429.8 687.1,428.3 685.8,427.1 686.7,425.7 686.3,424.4 686.1,423.1 686.6,421.8 685.8,420.5" fill="none" stroke="#000" stroke-width="1.5" stroke-linejoin="round"/>
<path d="M520.0,84.0 521.3,84.6 522.4,85.7 523.6,86.5 524.9,87.1 525.7,88.0 526.3,89.2 526.9,90.3 527.5,91.6 528.7,91.1 530.0,91.0 531.3,91.1 532.5,90.8 533.6,90.7 534.4,89.6 534.9,88.4 535.0,87.0 535.4,85.7 535.5,84.4 536.3,83.1 537.6,83.3 538.7,84.2 539.9,84.5 541.0,85.9 541.2,87.6" fill="none" stroke="#000" stroke-width="1.5" stroke-linejoin="round"/>
<path d="M544.0,120.0 548.0,119.5 553.5,121.0 549.0,123.0 544.0,122.0" fill="none" stroke="#000" stroke-width="2.2" stroke-linejoin="round"/>
<path d="M585.4,106.3 585.6,104.6 586.9,103.7 587.6,102.5 587.9,101.5 589.4,101.0 590.7,101.6 591.8,102.4 593.6,102.1 594.9,102.8 596.0,103.9 594.8,104.8 593.2,105.1 592.1,106.0 591.0,107.0 589.3,107.3 588.3,108.6 587.0,109.5 586.5,108.2 585.6,107.2 585.0,106.0" fill="none" stroke="#000" stroke-width="2.0" stroke-linejoin="round"/>
<path d="M607.5,92.0 611.0,90.0 615.0,92.0 611.0,94.5 607.5,92.0" fill="none" stroke="#000" stroke-width="1.4" stroke-linejoin="round"/>
<path d="M584.0,83.0 586.0,82.5 587.0,84.0" fill="none" stroke="#000" stroke-width="1.8" stroke-linejoin="round"/>
<path d="M603.2,165.8 603.8,164.5 604.1,163.2 605.1,162.0 605.3,160.7 605.6,159.3 605.6,157.9 606.3,156.7 606.8,155.5 607.4,154.4 607.8,153.1 608.6,152.0 609.1,150.8 609.1,149.4 609.5,148.2 610.1,147.1 611.3,146.4 611.8,145.0 612.8,144.2 614.0,143.5 614.5,142.1 615.5,141.2 616.9,140.8 617.8,139.6 618.1,138.4 618.3,137.1 619.5,136.3 619.9,135.1 620.6,134.1 621.3,133.1 621.7,131.9 621.9,130.6 622.2,129.4 622.8,128.3 623.4,127.2 623.9,126.1 624.0,124.8 624.5,123.7 625.3,122.7 625.8,121.6 626.0,120.4 627.0,119.5 627.2,118.2 627.1,116.8 627.9,115.8 628.7,114.8 628.7,113.5 629.5,112.5 629.3,111.1 630.0,110.1 631.0,109.2 631.2,107.9 631.7,106.8 631.8,105.5 632.5,104.5 632.8,103.3 632.8,102.0 633.4,100.8 633.5,99.5 634.2,98.3 634.1,97.0 634.2,95.7 634.1,94.4 634.4,93.2 635.3,92.1 634.9,90.7 635.2,89.4 635.6,88.2 636.3,87.0 636.9,85.8 637.0,84.5 637.5,83.3 637.5,82.0" fill="none" stroke="#000" stroke-width="1.8" stroke-linejoin="round"/>
<path d="M381.3,91.8 381.8,93.0 381.4,94.5 382.3,95.6 382.3,97.0 383.0,98.2 383.6,99.3 384.2,100.4 385.1,101.3 385.2,102.7 386.2,103.5 387.1,104.4 387.8,105.5 388.6,106.4 389.5,107.5 389.4,109.0 390.4,110.0 390.7,111.4 391.8,112.3 392.3,113.6 393.2,114.5 394.1,115.6 393.9,117.2 394.6,118.2 395.7,119.0 395.9,120.4 396.6,121.4 397.7,122.2 398.0,123.4 398.4,124.7 399.4,125.5 399.6,126.8 400.9,127.5 401.4,128.7 401.2,130.0 401.9,131.3 401.9,132.6 401.5,134.0 402.1,135.3 401.9,136.6 402.6,137.9 402.8,139.4 401.6,140.5 400.8,141.7 400.0,142.5 398.8,141.6 398.5,140.3 397.5,139.3 397.3,138.0 397.1,136.7 397.0,135.3 396.6,134.0 396.6,132.7 397.2,131.3 396.6,130.0 396.5,128.9 395.5,128.0 394.7,127.0 393.7,126.1 392.6,125.3 392.1,123.8 390.8,123.7 389.5,123.5 388.5,122.5 387.2,122.7 385.5,122.2 384.1,121.5 382.8,120.9 382.5,119.6 382.2,118.4 381.5,117.4 380.3,116.7 379.8,115.5 379.5,114.3 378.5,113.4 378.2,111.9 376.7,111.8 375.9,110.5 374.5,110.1 373.0,109.4 373.4,108.2 373.2,106.9 374.0,105.7 373.7,104.4 374.4,103.3 374.3,102.0 374.2,100.7 374.5,99.2 376.1,99.4 377.6,98.8 379.6,99.0 379.1,97.6 379.8,96.6 380.1,95.4 380.1,94.2 380.9,93.1 380.9,91.9" fill="none" stroke="#000" stroke-width="1.3" stroke-linejoin="round"/>
<path d="M362.8,96.4 364.1,97.2 365.4,97.5 366.9,97.6 368.3,98.3 368.5,99.8 368.2,101.3 367.2,102.7 367.7,104.0 368.1,105.4 369.6,105.9 369.9,107.4 370.9,108.2 371.6,109.4 370.4,110.0 369.2,110.7 367.8,110.7 366.6,111.2 365.7,111.4 364.3,112.5 364.1,113.8 365.4,114.5 366.5,115.8 367.7,115.9 367.9,117.3 368.2,118.6 369.5,119.8 369.5,121.2 370.2,122.5 369.7,124.2 370.7,124.9 371.9,125.2 372.9,125.9 373.7,126.9 374.6,127.6 376.0,127.7 376.5,129.1 378.1,129.4 379.0,130.6 380.6,131.0 382.0,132.1 381.1,133.7 381.5,135.1 381.7,136.6 382.4,137.4 383.8,138.2 385.1,139.1 386.5,140.0 387.3,141.0 388.1,141.9 389.3,142.5 389.9,144.0 388.4,144.7 387.7,146.1 386.6,146.6 385.7,145.4 385.3,144.0 384.1,143.0 383.7,141.6 383.2,140.4 382.1,139.7 381.0,139.0 381.1,137.3 380.3,136.4 379.0,135.9 377.8,135.4 377.5,133.7 376.3,133.2 374.9,133.1 374.1,132.1 373.0,131.4 372.6,129.9 371.1,129.7 370.8,128.2 369.7,127.6 368.1,127.5 367.8,126.3 367.1,124.9 367.4,123.4 367.2,122.0 366.2,120.8 365.9,119.7 365.7,118.0 364.3,117.9 363.8,116.5 362.6,116.0 361.7,115.2 361.0,114.6 360.4,113.4 360.0,112.2 359.2,111.0 359.8,109.5 359.2,108.2 360.1,106.9 361.4,105.9 361.2,104.1 362.2,103.0 361.4,101.6 362.5,100.4 362.9,99.2 362.3,97.8 362.8,96.6" fill="none" stroke="#000" stroke-width="1.7" stroke-linejoin="round"/>
<path d="M364.1,166.0 349.5,82.0" fill="none" stroke="#000" stroke-width="1" stroke-linejoin="round"/>
<path d="M211.2,82.0 210.4,83.2 210.9,84.5 211.0,85.7 211.4,87.0 211.6,88.3 211.1,89.5 210.9,90.8 211.2,92.0 210.9,93.3 211.1,94.5 210.2,95.7 210.1,97.0 210.8,98.3 210.7,99.5 210.2,100.7 210.2,102.0 209.4,103.2 210.1,104.3 211.2,104.9 211.8,106.4 213.5,106.2 214.2,107.4 215.5,107.8 216.1,109.2 217.4,109.5 217.7,110.8 219.1,111.5 218.9,113.0 219.6,114.0 220.3,115.0 220.5,116.4 220.9,117.5 222.5,118.1 222.8,119.3 223.4,120.4 224.3,121.4 225.2,122.3 225.6,123.6 226.5,124.6 226.5,126.1 227.5,126.9 228.9,127.2 229.8,128.2 230.7,129.1 231.9,129.7 233.2,130.1 234.3,130.7 235.7,131.6 234.9,133.5 235.8,134.4 237.3,135.0 236.9,136.6 237.1,137.9 238.2,138.7 239.4,139.5 239.5,140.9 240.1,141.9 241.3,142.6 241.8,143.9 243.4,144.3 243.3,146.2 244.5,146.9 245.5,147.8 246.1,149.1 247.3,149.6 248.3,150.6 248.7,151.9 249.3,153.1 249.9,154.3 249.2,155.9 249.5,157.1 250.6,158.2 251.1,159.4 250.7,160.8 250.7,162.1 250.9,163.4 252.4,164.4 251.7,165.9 252.5,167.0" fill="none" stroke="#000" stroke-width="1" stroke-linejoin="round"/>
<path d="M127.0,84.9 128.1,85.8 130.9,85.8 132.3,86.6 129.5,89.6 132.8,89.3 133.2,90.6 132.9,92.2 134.5,92.9 132.6,95.4 136.4,95.1 138.1,95.8 135.9,98.4 136.2,99.8 136.0,101.9 137.4,102.6 137.3,104.4 137.9,105.5 140.9,104.9 141.7,106.0 144.5,106.7 143.8,108.1 142.3,109.6 145.5,110.4 142.0,112.1 145.3,113.0 143.8,114.5 140.8,116.1 146.1,116.1 146.8,117.3 145.0,119.4 146.9,120.1 144.4,122.5 148.9,122.2 144.6,125.2 145.0,126.5 146.2,128.1 148.7,127.7 150.2,128.2 149.6,130.9 151.1,130.6 152.5,130.6 153.9,130.6 154.8,131.7 155.4,133.4 156.2,134.8 157.2,135.7 160.1,132.1 161.0,133.4 161.8,134.7 162.7,135.8 164.7,135.4 166.2,135.7 167.5,136.1 167.2,138.0 167.4,139.4 165.9,142.4 167.0,143.0 168.0,143.8 168.3,145.1 169.1,145.9 171.4,145.3 170.9,147.0 175.5,146.1 172.8,148.9 173.7,149.9 175.9,150.2 175.0,152.0 173.3,153.4 176.3,154.4 175.5,155.9 177.8,157.0 177.7,158.5 174.8,160.6 180.1,160.6 179.5,162.2 177.0,164.3 178.6,165.3 181.1,166.1 178.1,168.2 180.0,169.1 178.9,170.5 180.1,171.5 179.6,172.8 180.0,174.0" fill="none" stroke="#000" stroke-width="2.3" stroke-linejoin="round"/>
<path d="M135.8,130.1 136.7,131.1 138.0,132.0 138.2,133.3 136.4,135.2 137.9,136.1 139.8,136.2 138.8,138.8 141.2,138.5 142.4,139.2 142.2,141.1 143.7,141.5 144.0,143.0 144.5,144.3 146.1,144.9 145.8,146.6 147.7,147.1 147.3,148.9 147.8,150.2 149.9,150.1 149.9,151.8 151.6,152.1 151.6,153.9 151.4,155.8 153.0,156.1 153.5,157.4 154.2,158.5 156.6,158.2 155.2,161.0 156.6,161.4 158.7,160.9 158.7,163.7 160.7,163.2 162.3,163.3 162.4,166.4 164.1,165.7 165.0,166.8 167.0,165.4 167.3,167.8 169.4,166.2 170.3,167.2 171.6,168.1 171.6,169.7 172.6,167.5 170.8,166.7 170.4,165.2 171.3,163.7 170.1,162.7 171.2,161.2 170.0,160.2 170.5,158.8 169.1,157.8 168.9,156.1 167.8,155.4 165.3,156.3 165.5,154.1 163.7,154.2 163.7,152.6 162.7,151.5 162.4,150.0 159.7,149.9 159.6,148.1 160.5,146.5 160.8,145.1 159.8,144.0 157.4,143.2 158.9,141.5 157.0,140.6 158.1,138.9 157.4,137.6 155.3,139.0 155.4,136.2 153.9,136.3 152.3,137.0 151.1,136.6 150.4,135.4 149.9,133.7 148.4,133.9 146.7,134.7 145.5,134.4 144.5,133.7 144.2,131.1 142.4,132.6 141.4,131.2 139.8,131.7 138.8,130.1 137.2,130.7 136.0,130.0" fill="none" stroke="#000" stroke-width="1.9" stroke-linejoin="round"/>
<path d="M171.9,178.2 173.4,179.7 174.7,178.8 175.6,178.7 175.8,179.9 176.0,181.2 178.6,181.4 178.3,183.2 177.9,184.5 176.5,185.0 175.0,185.5 175.3,186.4 173.2,187.3 172.0,186.3 171.8,185.1 171.6,183.9 171.1,182.6 171.5,181.4 171.0,180.1 172.0,179.0" fill="none" stroke="#000" stroke-width="2.2" stroke-linejoin="round"/>
<path d="M172.1,170.7 170.8,170.8 169.7,170.0 168.4,170.0 167.1,170.2 165.9,169.7 164.7,169.3 163.8,168.1 162.4,167.9 161.0,167.9 160.3,167.1 159.4,168.6 158.5,170.0 158.7,171.3 159.1,172.6 159.4,174.0 160.0,175.2 159.7,176.7 160.2,178.0 160.6,179.2 160.2,180.4 159.8,181.6 160.9,182.8 160.9,184.0 160.4,185.2 160.9,186.4 161.0,187.6 160.9,188.8 161.2,190.0 160.8,191.4 160.8,192.8 160.2,194.2 160.1,195.6 161.0,197.1 160.1,198.2 159.6,199.4 159.2,200.7 159.0,201.9 158.8,203.2 158.5,204.5 158.4,205.8 158.2,207.1 157.3,208.2 156.9,209.4 156.5,210.6 156.3,211.9 156.3,213.3 155.5,214.4 155.1,215.7 155.0,217.0 154.4,218.1 154.3,219.3 153.7,220.4 153.4,221.6 153.3,222.9 152.6,223.9 152.2,225.0 151.3,226.3 151.6,227.8 151.5,229.2 151.5,230.6 151.0,232.0" fill="none" stroke="#000" stroke-width="1.6" stroke-linejoin="round"/>
<path d="M244.0,82.8 245.2,82.8 246.4,82.5 247.6,82.3 248.8,82.9 250.0,82.5 251.3,83.1 252.5,83.8 253.8,84.2 255.1,85.3 253.8,85.7 252.5,85.9 251.3,86.3 250.0,86.3 248.8,86.2 247.7,85.6 246.4,85.7 245.3,85.0 244.0,85.0" fill="none" stroke="#000" stroke-width="1.6" stroke-linejoin="round"/>
<path d="M298.0,82.8 302.0,82.5 304.0,84.0 299.0,84.5" fill="none" stroke="#000" stroke-width="1.4" stroke-linejoin="round"/>
</g>
<rect x="100.5" y="82.5" width="620" height="396" fill="none" stroke="#000" stroke-width="1"/>
<rect x="100" y="498" width="155" height="20" fill="#fee2d5"/>
<rect x="255" y="498" width="155" height="20" fill="#fc9879"/>
<rect x="410" y="498" width="155" height="20" fill="#f03f2e"/>
<rect x="565" y="498" width="155" height="20" fill="#a50f15"/>
<path d="M255.5,512V518M410.5,512V518M565.5,512V518" stroke="#000" stroke-width="0.8"/>
<rect x="100.5" y="498.5" width="620" height="20" fill="none" stroke="#000" stroke-width="1"/>
</svg>
<div class="lbl" style="left:100px">0.1</div>
<div class="lbl" style="left:255px">1.0</div>
<div class="lbl" style="left:410px">2.0</div>
<div class="lbl" style="left:565px">3.0</div>
<div class="lbl" style="left:720px">4.0</div>
<div class="xl">N Events</div>
</body></html>
